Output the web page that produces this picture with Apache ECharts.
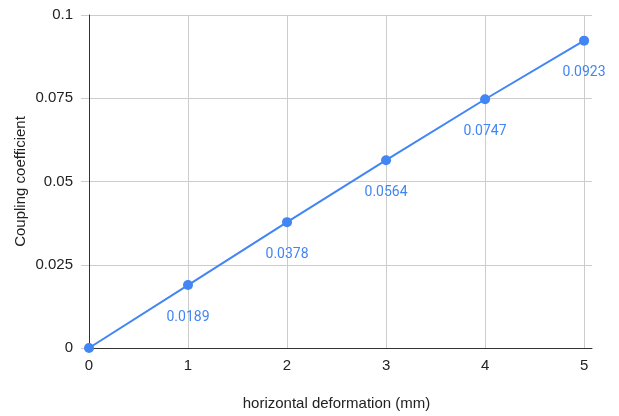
<!DOCTYPE html>
<html>
<head>
<meta charset="utf-8">
<script src="https://cdn.jsdelivr.net/npm/echarts@6/dist/echarts.min.js"></script>
<style>html,body{margin:0;padding:0;background:#fff;}#c{width:619px;height:416px;}</style>
</head>
<body>
<div id="c"></div>
<script>
const xValues = [0, 1, 2, 3, 4, 5];
const yValues = [0, 0.0189, 0.0378, 0.0564, 0.0747, 0.0923];
const xTitle = 'horizontal deformation (mm)';
const yTitle = 'Coupling coefficient';

const chart = echarts.init(document.getElementById('c'));
const data = xValues.map((x, i) => [x, yValues[i]]);
chart.setOption({
  animation: false,
  grid: { left: 89, right: 27, top: 15, bottom: 67 },
  xAxis: {
    type: 'value', min: 0, max: 5.08, interval: 1,
    name: xTitle, nameLocation: 'middle', nameGap: 48,
    nameTextStyle: { fontFamily: 'Liberation Sans', fontSize: 15, color: '#222', padding: [0, 8, 0, 0] },
    axisLine: { show: true, lineStyle: { color: '#333', width: 1 } },
    axisTick: { show: false },
    axisLabel: { showMaxLabel: false, margin: 10, fontFamily: 'Liberation Sans', fontSize: 15, color: '#222' },
    splitLine: { show: true, showMaxLine: false, lineStyle: { color: '#ccc' } }
  },
  yAxis: {
    type: 'value', min: 0, max: 0.1, interval: 0.025,
    name: yTitle, nameLocation: 'middle', nameGap: 61, nameRotate: 90, nameMoveOverlap: false,
    nameTextStyle: { fontFamily: 'Liberation Sans', fontSize: 15, color: '#222' },
    axisLine: { show: true, lineStyle: { color: '#333', width: 1 } },
    axisTick: { show: true, length: 8, lineStyle: { color: '#ccc' } },
    axisLabel: { margin: 16, fontFamily: 'Liberation Sans', fontSize: 15, color: '#222' },
    splitLine: { show: true, lineStyle: { color: '#ccc' } }
  },
  series: [{
    type: 'line',
    data: data,
    symbol: 'circle', symbolSize: 10,
    itemStyle: { color: '#4285F4' },
    lineStyle: { color: '#4285F4', width: 2 },
    label: {
      show: true, position: 'bottom', distance: 20,
      fontFamily: 'Roboto', fontSize: 14, color: '#4285F4',
      formatter: p => p.value[1] === 0 ? '' : String(p.value[1])
    }
  }]
});
</script>
</body>
</html>
